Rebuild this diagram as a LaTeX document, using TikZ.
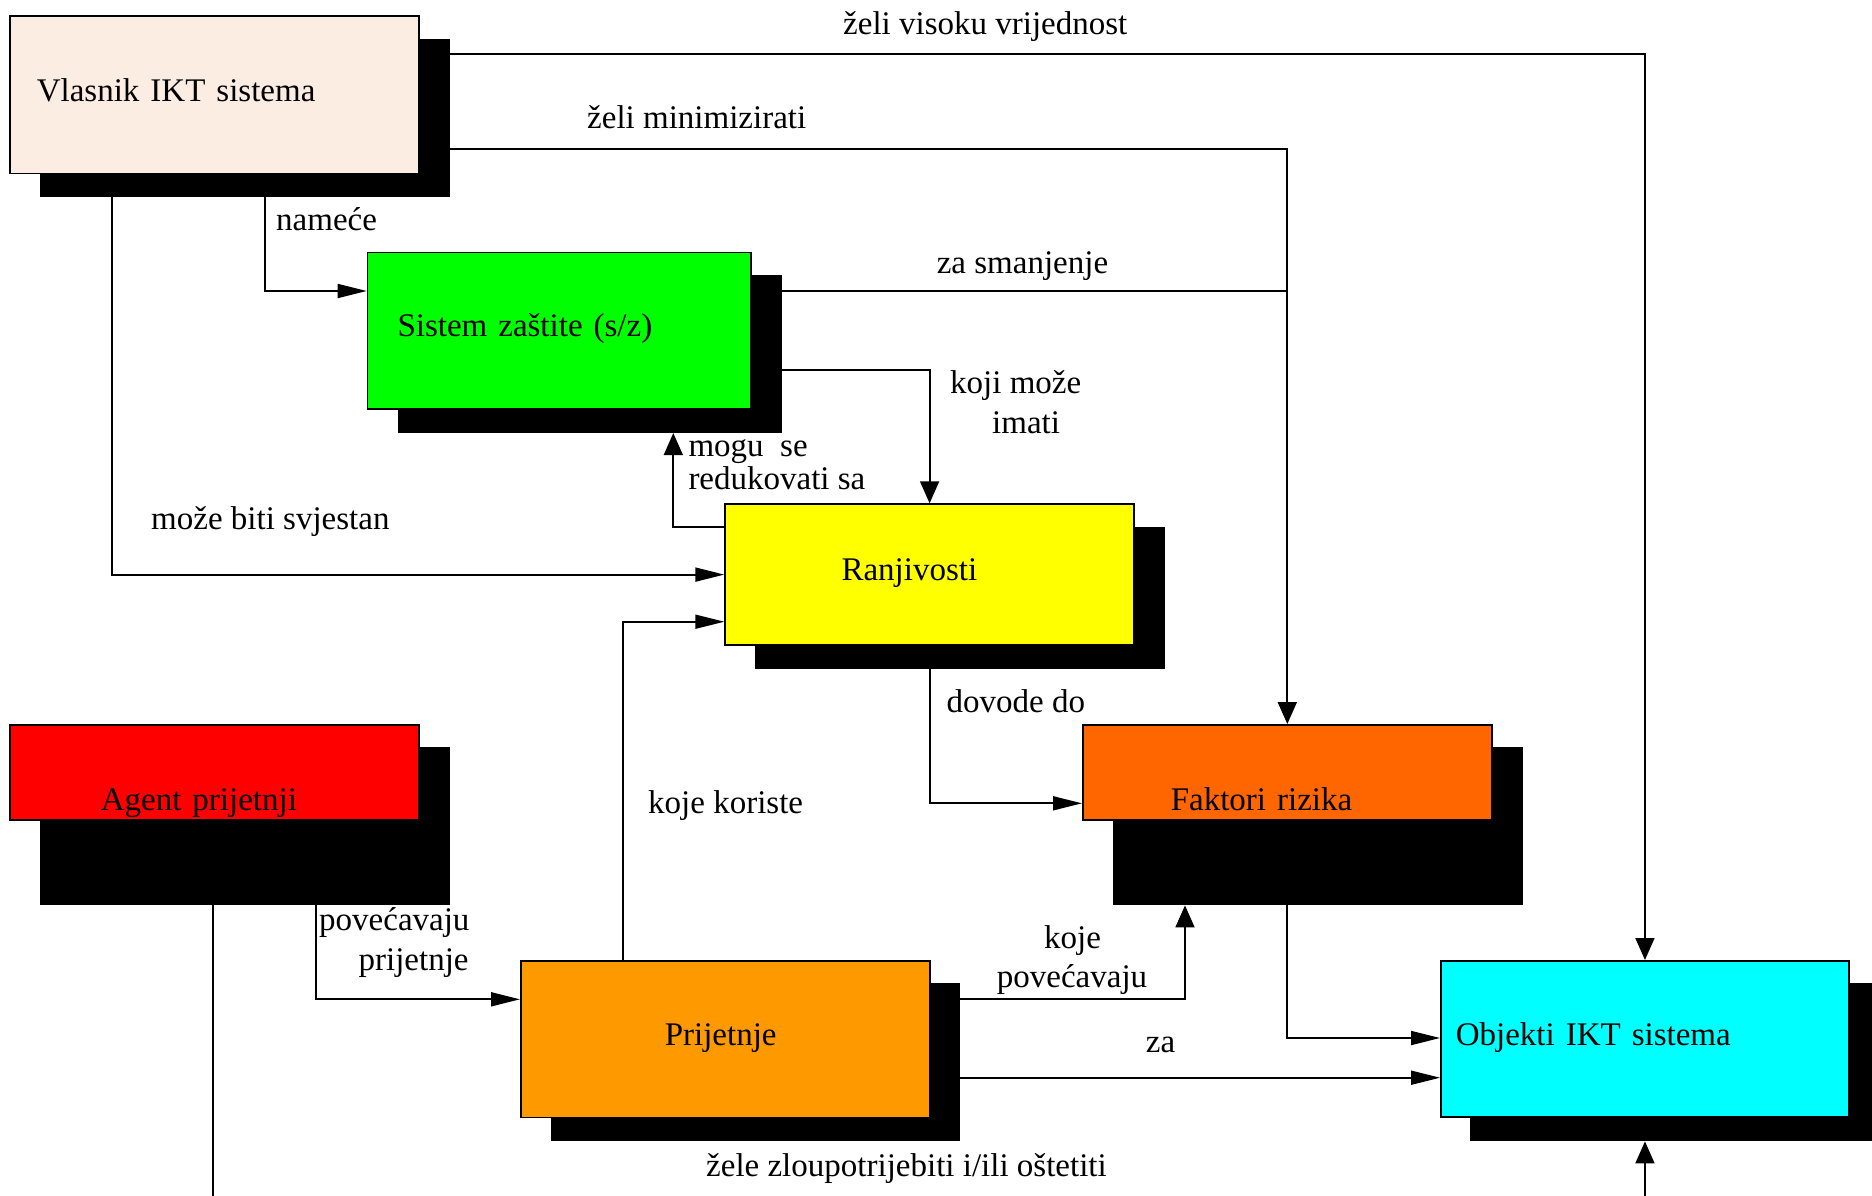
\documentclass[tikz,border=0pt]{standalone}
\usepackage{fontspec}
\setmainfont{Liberation Serif}
\usetikzlibrary{arrows.meta}

\definecolor{owner}{RGB}{252,237,227}
\definecolor{protect}{RGB}{0,255,0}
\definecolor{vuln}{RGB}{255,255,0}
\definecolor{agentred}{RGB}{255,0,0}
\definecolor{risk}{RGB}{255,102,0}
\definecolor{threat}{RGB}{255,153,0}
\definecolor{asset}{RGB}{0,255,255}

\begin{document}
\begin{tikzpicture}[x=1pt,y=-1pt,
  every node/.style={font=\fontsize{33}{38}\selectfont},
  entity/.style={draw=black, line width=1.6pt, anchor=north west,
    inner ysep=0pt, align=left, text depth=10pt},
  shade/.style={fill=black, draw=none, anchor=north west, inner sep=0pt},
  lbl/.style={anchor=base west, inner sep=0pt},
  link/.style={line width=1.8pt},
  arrH/.style={link, -{Triangle[length=29pt,width=14pt]}},
  arrV/.style={link, -{Triangle[length=22pt,width=19pt]}}]

\useasboundingbox (0,0) rectangle (1872,1195);
\clip (0,0) rectangle (1872,1195);

% drop shadows
\node[shade, minimum width=410pt, minimum height=158.4pt] (vl-s) at (39.3,38.3) {};
\node[shade, minimum width=384.4pt, minimum height=158.4pt] (sz-s) at (397.3,274.3) {};
\node[shade, minimum width=410pt, minimum height=142.3pt] (rj-s) at (755,526.7) {};
\node[shade, minimum width=410pt, minimum height=158.3pt] (ag-s) at (39.3,746.7) {};
\node[shade, minimum width=410pt, minimum height=158.3pt] (fr-s) at (1112.3,746.7) {};
\node[shade, minimum width=409.3pt, minimum height=158.3pt] (pr-s) at (550.7,982.7) {};
\node[shade, minimum width=410pt, minimum height=158.3pt] (ob-s) at (1470,982.7) {};

% entities
\node[entity, fill=owner, inner xsep=27pt, text width=355.3pt,
  minimum height=157.7pt, text height=23.7pt] (vl) at (9,15) {Vlasnik IKT sistema};
\node[entity, fill=protect, inner xsep=30pt, text width=323.3pt,
  minimum height=156.6pt, text height=22pt] (sz) at (366.7,251.7) {Sistem zaštite (s/z)};
\node[entity, fill=vuln, inner xsep=116.4pt, text width=176.2pt,
  minimum height=141pt, text height=22.4pt] (rj) at (724.3,503.3) {Ranjivosti};
\node[entity, fill=agentred, inner xsep=91pt, text width=227.3pt,
  minimum height=95.3pt, text height=81.7pt, text depth=5pt] (ag) at (9,724) {Agent prijetnji};
\node[entity, fill=risk, inner xsep=88pt, text width=233pt,
  minimum height=95.3pt, text height=81.7pt, text depth=5pt] (fr) at (1082,724) {Faktori rizika};
\node[entity, fill=threat, inner xsep=144pt, text width=121.3pt,
  minimum height=156.7pt, text height=23.3pt] (pr) at (520,960) {Prijetnje};
\node[entity, fill=asset, inner xsep=15pt, text width=378.3pt,
  minimum height=156pt, text height=24pt] (ob) at (1440,960) {Objekti IKT sistema};

% connectors
\draw[arrV] (vl-s.east |- 0,54) -| (ob.north);
\draw[arrV] (vl-s.east |- 0,149.3) -| (fr.north);
\draw[link] (sz-s.east |- 0,291) -- (fr.north |- 0,291);
\draw[arrH] (vl-s.south -| 265,0) |- (sz.west |- 0,291);
\draw[arrV] (sz-s.east |- 0,370) -| (rj.north);
\draw[arrV] (rj.west |- 0,526.7) -| (sz-s.south -| 673.3,0);
\draw[arrH] (vl-s.south -| 111.7,0) |- (rj.west);
\draw[arrH] (pr.north -| 622.7,0) |- (rj.west |- 0,621.7);
\draw[arrH] (rj-s.south -| rj.north) |- (fr.west |- 0,803.3);
\draw[arrH] (ag-s.south -| 316,0) |- (pr.west |- 0,999.3);
\draw[arrV] (pr-s.east |- 0,999.3) -| (fr-s.south -| 1185,0);
\draw[arrH] (pr-s.east |- 0,1077.7) -- (ob.west |- 0,1077.7);
\draw[arrH] (fr-s.south -| fr.north) |- (ob.west |- 0,1038);
\coordinate (below) at (213.3,1260);
\draw[arrV] (ag-s.south -| below) -- (below) -| (ob-s.south -| ob.north);

% connector labels
\node[lbl] (l-visoku) at (843,34.5) {želi visoku vrijednost};
\node[lbl] (l-minim) at (587,128.3) {želi minimizirati};
\node[lbl] (l-namece) at (276,230) {nameće};
\node[lbl] (l-smanj) at (936.6,273) {za smanjenje};
\node[lbl] (l-koji) at (950,393.3) {koji može};
\node[lbl] (l-imati) at (992,433.3) {imati};
\node[lbl] (l-mogu) at (688.3,456) {mogu~~se};
\node[lbl] (l-reduk) at (688.3,489.5) {redukovati sa};
\node[lbl] (l-svjestan) at (151,529.3) {može biti svjestan};
\node[lbl] (l-dovode) at (946.5,712) {dovode do};
\node[lbl] (l-koriste) at (648,813) {koje koriste};
\node[lbl] (l-povec1) at (319,930) {povećavaju};
\node[lbl, anchor=base east] (l-prij) at (468.8,970.5) {prijetnje};
\node[lbl] (l-koje) at (1044,948) {koje};
\node[lbl] (l-povec2) at (996.7,987.3) {povećavaju};
\node[lbl] (l-za) at (1145.7,1052.7) {za};
\node[lbl] (l-zele) at (706,1176.7) {žele zloupotrijebiti i/ili oštetiti};
\end{tikzpicture}
\end{document}
